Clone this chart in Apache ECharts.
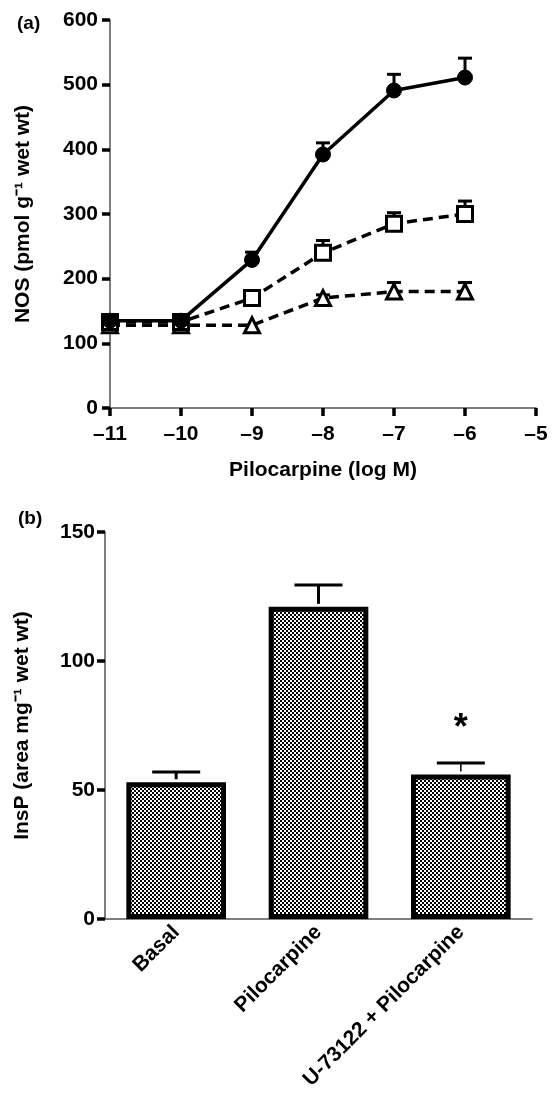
<!DOCTYPE html>
<html>
<head>
<meta charset="utf-8">
<script src="https://cdn.jsdelivr.net/npm/echarts@6/dist/echarts.min.js"></script>
<style>
html,body{margin:0;padding:0;background:#fff;}
#c{width:555px;height:1096px;}
</style>
</head>
<body>
<div id="c"></div>
<script>
// ---------- Data: panel (a) ----------
const logDose = [-11, -10, -9, -8, -7, -6];
const pilocarpineNOS = [135, 135, 229, 392, 491, 511];
const pilocarpineNOSErr = [0, 0, 12, 18, 25, 30];
const squareNOS = [133, 133, 170, 240, 285, 300];
const squareNOSErr = [0, 0, 5, 19, 17, 20];
const triangleNOS = [128, 128, 128, 170, 180, 180];
const triangleNOSErr = [0, 0, 0, 5, 14, 14];
const xTickLabelsA = ['–11', '–10', '–9', '–8', '–7', '–6', '–5'];
const yTickLabelsA = ['0', '100', '200', '300', '400', '500', '600'];

// ---------- Data: panel (b) ----------
const categoriesB = ['Basal', 'Pilocarpine', 'U-73122 + Pilocarpine'];
const insP = [53, 121, 56];
const insPErr = [4, 8.5, 4.5];
const significance = ['', '', '*'];

const FONT = 'Liberation Sans';
const FS = 21;

// checkerboard pattern
const pc = document.createElement('canvas');
pc.width = 4; pc.height = 4;
const g = pc.getContext('2d');
g.fillStyle = '#fff'; g.fillRect(0, 0, 4, 4);
g.fillStyle = '#000'; g.fillRect(0, 0, 2, 2); g.fillRect(2, 2, 2, 2);

function errData(ys, es) {
  return logDose.map((x, i) => [x, ys[i], es[i]]);
}
function errRender(params, api) {
  const x = api.value(0), y = api.value(1), e = api.value(2);
  if (!e) return null;
  const p0 = api.coord([x, y]);
  const p1 = api.coord([x, y + e]);
  return {
    type: 'group',
    children: [
      {type: 'line', shape: {x1: p0[0], y1: p0[1], x2: p1[0], y2: p1[1]}, style: {stroke: '#000', lineWidth: 3}},
      {type: 'line', shape: {x1: p1[0] - 7, y1: p1[1], x2: p1[0] + 7, y2: p1[1]}, style: {stroke: '#000', lineWidth: 3}}
    ]
  };
}

const axisLineStyle = {show: true, lineStyle: {color: '#555', width: 1.5}};
const tickStyle = {show: true, length: 8, lineStyle: {color: '#000', width: 3.5}};
const labelStyle = {color: '#000', fontFamily: FONT, fontWeight: 'bold', fontSize: FS};
const nameStyle = {color: '#000', fontFamily: FONT, fontWeight: 'bold', fontSize: FS};

const option = {
  animation: false,
  backgroundColor: '#fff',
  title: [
    {text: '(a)', left: 12, top: 9, textStyle: {fontFamily: FONT, fontWeight: 'bold', fontSize: 19, color: '#000'}},
    {text: '(b)', left: 13, top: 504, textStyle: {fontFamily: FONT, fontWeight: 'bold', fontSize: 19, color: '#000'}}
  ],
  grid: [
    {left: 110, right: 19, top: 20, bottom: 688},
    {left: 105, right: 23, top: 532, bottom: 177}
  ],
  xAxis: [
    {
      gridIndex: 0, type: 'value', min: -11, max: -5, interval: 1,
      name: 'Pilocarpine (log M)', nameLocation: 'middle', nameGap: 52,
      nameTextStyle: nameStyle,
      axisLine: axisLineStyle, axisTick: tickStyle,
      axisLabel: Object.assign({margin: 16, formatter: v => xTickLabelsA[Math.round(v + 11)]}, labelStyle),
      splitLine: {show: false}
    },
    {
      gridIndex: 1, type: 'category', data: categoriesB,
      axisLine: axisLineStyle, axisTick: {show: false},
      axisLabel: Object.assign({rotate: 45, margin: 10, interval: 0}, labelStyle),
      splitLine: {show: false}
    }
  ],
  yAxis: [
    {
      gridIndex: 0, type: 'value', min: 0, max: 600, interval: 100,
      name: 'NOS (pmol g⁻¹ wet wt)', nameLocation: 'middle', nameGap: 76,
      nameTextStyle: nameStyle,
      axisLine: axisLineStyle, axisTick: tickStyle,
      axisLabel: Object.assign({margin: 12, formatter: v => yTickLabelsA[Math.round(v / 100)]}, labelStyle),
      splitLine: {show: false}
    },
    {
      gridIndex: 1, type: 'value', min: 0, max: 150, interval: 50,
      name: 'InsP (area mg⁻¹ wet wt)', nameLocation: 'middle', nameGap: 72,
      nameTextStyle: nameStyle,
      axisLine: axisLineStyle, axisTick: tickStyle,
      axisLabel: Object.assign({margin: 10}, labelStyle),
      splitLine: {show: false}
    }
  ],
  series: [
    // error bars (a)
    {type: 'custom', xAxisIndex: 0, yAxisIndex: 0, z: 1, renderItem: errRender, data: errData(pilocarpineNOS, pilocarpineNOSErr)},
    {type: 'custom', xAxisIndex: 0, yAxisIndex: 0, z: 1, renderItem: errRender, data: errData(squareNOS, squareNOSErr)},
    {type: 'custom', xAxisIndex: 0, yAxisIndex: 0, z: 1, renderItem: errRender, data: errData(triangleNOS, triangleNOSErr)},
    // lines (a)
    {
      type: 'line', xAxisIndex: 0, yAxisIndex: 0, z: 3,
      data: logDose.map((x, i) => [x, triangleNOS[i]]),
      symbol: 'triangle', symbolSize: 15,
      lineStyle: {color: '#000', width: 3.5, type: [10, 6]},
      itemStyle: {color: '#fff', borderColor: '#000', borderWidth: 3}
    },
    {
      type: 'line', xAxisIndex: 0, yAxisIndex: 0, z: 4,
      data: logDose.map((x, i) => [x, squareNOS[i]]),
      symbol: 'rect', symbolSize: 15,
      lineStyle: {color: '#000', width: 3.5, type: [10, 6]},
      itemStyle: {color: '#fff', borderColor: '#000', borderWidth: 3}
    },
    {
      type: 'line', xAxisIndex: 0, yAxisIndex: 0, z: 5,
      data: logDose.map((x, i) => [x, pilocarpineNOS[i]]),
      symbol: 'circle', symbolSize: 15,
      lineStyle: {color: '#000', width: 3.5},
      itemStyle: {color: '#000', borderColor: '#000', borderWidth: 1}
    },
    // bars (b)
    {
      type: 'bar', xAxisIndex: 1, yAxisIndex: 1, barWidth: '70%', z: 2,
      data: insP,
      itemStyle: {color: {image: pc, repeat: 'repeat'}, borderColor: '#000', borderWidth: 5}
    },
    // error bars + significance (b)
    {
      type: 'custom', xAxisIndex: 1, yAxisIndex: 1, z: 3,
      data: insP.map((v, i) => [i, v, insPErr[i]]),
      renderItem: function (params, api) {
        const i = api.value(0), v = api.value(1), e = api.value(2);
        const p0 = api.coord([i, v]);
        const p1 = api.coord([i, v + e]);
        const children = [
          {type: 'line', shape: {x1: p0[0], y1: p0[1] - 3, x2: p1[0], y2: p1[1]}, style: {stroke: '#000', lineWidth: i === 2 ? 1.5 : 3}},
          {type: 'line', shape: {x1: p1[0] - 24, y1: p1[1], x2: p1[0] + 24, y2: p1[1]}, style: {stroke: '#000', lineWidth: 3}}
        ];
        const s = significance[i];
        if (s) {
          children.push({type: 'text', x: p1[0], y: p1[1] - 34, style: {text: s, fill: '#000', font: 'bold 36px "Liberation Sans"', align: 'center', verticalAlign: 'middle'}});
        }
        return {type: 'group', children: children};
      }
    }
  ]
};

const chart = echarts.init(document.getElementById('c'), null, {renderer: 'canvas'});
chart.setOption(option);
</script>
</body>
</html>
